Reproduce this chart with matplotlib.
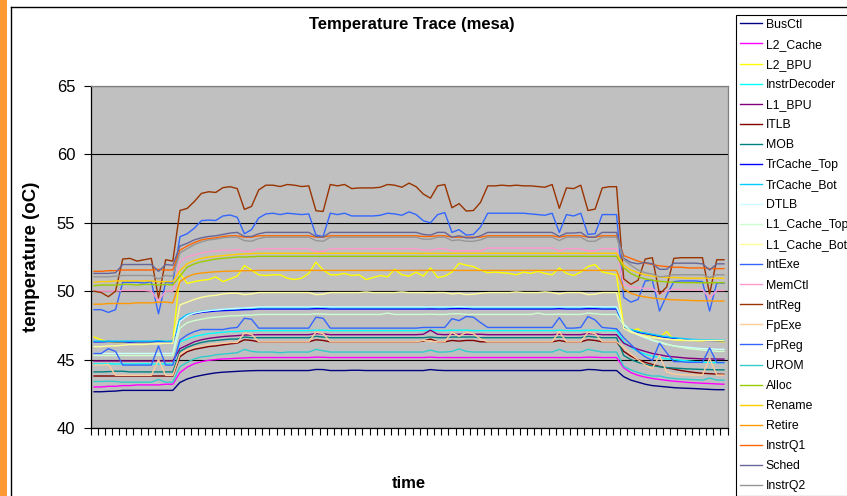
import matplotlib
matplotlib.use("Agg")
import matplotlib.pyplot as plt
from matplotlib.lines import Line2D
from matplotlib.patches import Rectangle
import numpy as np

plt.rcParams['font.family'] = ['Liberation Sans', 'DejaVu Sans']

# ---------------- data (89 samples per unit) ----------------
bus_ctl = [
    42.65, 42.65, 42.68, 42.7, 42.75, 42.75, 42.75, 42.75, 42.75, 42.75, 42.75, 42.75,
    43.33, 43.58, 43.74, 43.85, 43.95, 44.03, 44.08, 44.11, 44.14, 44.17, 44.19,
    44.2, 44.2, 44.2, 44.2, 44.2, 44.2, 44.2, 44.2, 44.28, 44.27,
    44.2, 44.2, 44.2, 44.22, 44.22, 44.2, 44.2, 44.2, 44.2, 44.2, 44.2, 44.2, 44.2,
    44.2, 44.27, 44.22, 44.2, 44.2, 44.2, 44.2, 44.2, 44.2,
    44.2, 44.2, 44.2, 44.2, 44.2, 44.2, 44.2, 44.2, 44.2, 44.2,
    44.2, 44.2, 44.2, 44.2, 44.28, 44.26, 44.2, 44.2, 44.2,
    43.75, 43.5, 43.35, 43.2, 43.1, 43.05, 43.0, 42.95, 42.92, 42.9, 42.88, 42.85, 42.82, 42.8, 42.8,
]
l2_cache = [
    43.0, 43.0, 43.05, 43.05, 43.1, 43.1, 43.15, 43.15, 43.15, 43.15, 43.2, 43.2,
    44.05, 44.45, 44.7, 44.85, 44.95, 45.0, 45.05, 45.07, 45.1, 45.12, 45.15,
    45.15, 45.15, 45.15, 45.15, 45.15, 45.15, 45.15, 45.15, 45.18, 45.17,
    45.15, 45.15, 45.15, 45.15, 45.15, 45.15, 45.15, 45.15, 45.15, 45.15, 45.15, 45.15, 45.15,
    45.15, 45.18, 45.15, 45.15, 45.15, 45.15, 45.15, 45.15, 45.15,
    45.15, 45.15, 45.15, 45.15, 45.15, 45.15, 45.15, 45.15, 45.15, 45.15,
    45.15, 45.15, 45.15, 45.15, 45.18, 45.17, 45.15, 45.15, 45.15,
    44.4, 44.05, 43.85, 43.72, 43.62, 43.55, 43.48, 43.42, 43.38, 43.33, 43.3, 43.27, 43.25, 43.22, 43.2,
]
l2_bpu = [
    46.65, 46.45, 46.3, 46.25, 46.25, 46.3, 46.3, 46.3, 46.3, 46.4, 46.35, 46.3,
    51.3, 50.57, 50.7, 50.8, 50.85, 51.05, 50.7, 50.9, 51.1, 51.87, 51.55,
    51.2, 51.15, 51.2, 51.2, 50.95, 50.85, 50.95, 51.3, 52.13, 51.55,
    51.2, 51.2, 51.3, 51.15, 51.2, 50.85, 51.0, 51.15, 51.05, 51.6, 51.2, 51.1, 51.4,
    51.1, 51.7, 51.0, 51.1, 51.4, 52.04, 51.9, 51.8, 51.55,
    51.35, 51.4, 51.35, 51.3, 51.2, 51.4, 51.3, 51.45, 51.3, 51.2,
    51.7, 51.3, 51.15, 51.4, 51.8, 51.95, 51.4, 51.3, 51.2,
    47.4, 47.1, 47.25, 46.85, 46.75, 46.6, 47.05, 46.45, 46.4, 46.4, 46.4, 46.35, 46.45, 46.35, 46.3,
]
instr_decoder = [
    44.68, 44.68, 44.7, 44.68, 44.68, 44.68, 44.68, 44.7, 44.68, 44.68, 44.68, 44.68,
    46.3, 46.5, 46.7, 46.8, 46.9, 46.95, 47.0, 47.05, 47.05, 47.1, 47.1,
    47.12, 47.12, 47.12, 47.12, 47.12, 47.12, 47.12, 47.12, 47.15, 47.15,
    47.12, 47.12, 47.12, 47.12, 47.12, 47.12, 47.12, 47.12, 47.12, 47.12, 47.12, 47.12, 47.12,
    47.12, 47.15, 47.12, 47.12, 47.15, 47.15, 47.15, 47.12, 47.12,
    47.12, 47.12, 47.12, 47.12, 47.12, 47.12, 47.12, 47.12, 47.12, 47.12,
    47.15, 47.12, 47.12, 47.12, 47.15, 47.15, 47.12, 47.12, 47.12,
    46.3, 45.9, 45.6, 45.4, 45.25, 45.15, 45.05, 45.0, 44.95, 44.9, 44.85, 44.8, 44.8, 44.78, 44.78,
]
l1_bpu = [
    44.9, 44.9, 44.9, 44.9, 44.9, 44.9, 44.9, 44.9, 44.9, 44.9, 44.9, 44.9,
    45.8, 46.05, 46.3, 46.45, 46.55, 46.62, 46.68, 46.72, 46.75, 46.8, 46.8,
    46.82, 46.82, 46.82, 46.82, 46.82, 46.82, 46.82, 46.82, 46.9, 46.88,
    46.82, 46.82, 46.82, 46.82, 46.82, 46.82, 46.82, 46.82, 46.82, 46.82, 46.82, 46.82, 46.82,
    46.85, 47.15, 46.85, 46.82, 46.85, 46.85, 46.85, 46.85, 46.85,
    46.82, 46.82, 46.82, 46.82, 46.82, 46.82, 46.82, 46.82, 46.82, 46.82,
    46.85, 46.82, 46.82, 46.82, 46.9, 46.88, 46.82, 46.82, 46.82,
    46.2, 45.95, 45.75, 45.6, 45.45, 45.35, 45.25, 45.2, 45.15, 45.1, 45.08, 45.05, 45.05, 45.04, 45.04,
]
itlb = [
    43.8, 43.8, 43.8, 43.8, 43.8, 43.8, 43.8, 43.8, 43.8, 43.8, 43.8, 43.8,
    45.21, 45.58, 45.75, 45.85, 45.95, 46.0, 46.08, 46.15, 46.2, 46.45, 46.4,
    46.3, 46.3, 46.3, 46.3, 46.3, 46.3, 46.3, 46.3, 46.45, 46.4,
    46.3, 46.3, 46.3, 46.3, 46.3, 46.3, 46.3, 46.3, 46.3, 46.3, 46.3, 46.3, 46.3,
    46.35, 46.5, 46.3, 46.3, 46.4, 46.35, 46.4, 46.4, 46.3,
    46.3, 46.3, 46.3, 46.3, 46.3, 46.3, 46.3, 46.3, 46.3, 46.3,
    46.4, 46.3, 46.3, 46.3, 46.45, 46.4, 46.3, 46.3, 46.3,
    45.6, 45.25, 45.0, 44.8, 44.65, 44.5, 44.4, 44.3, 44.2, 44.12, 44.05, 44.0, 43.97, 43.94, 43.92,
]
mob = [
    44.1, 44.1, 44.12, 44.15, 44.15, 44.1, 44.1, 44.1, 44.1, 44.1, 44.1, 44.1,
    45.6, 45.9, 46.1, 46.25, 46.35, 46.4, 46.45, 46.5, 46.5, 46.65, 46.6,
    46.6, 46.6, 46.6, 46.6, 46.6, 46.6, 46.6, 46.6, 46.7, 46.65,
    46.6, 46.6, 46.6, 46.6, 46.6, 46.6, 46.6, 46.6, 46.6, 46.6, 46.6, 46.6, 46.6,
    46.6, 46.65, 46.6, 46.6, 46.65, 46.65, 46.65, 46.65, 46.6,
    46.6, 46.6, 46.6, 46.6, 46.6, 46.6, 46.6, 46.6, 46.6, 46.6,
    46.65, 46.6, 46.6, 46.6, 46.7, 46.65, 46.6, 46.6, 46.6,
    45.3, 45.0, 44.8, 44.65, 44.55, 44.48, 44.42, 44.38, 44.35, 44.32, 44.3, 44.28, 44.27, 44.25, 44.25,
]
trcache_top = [
    46.3, 46.3, 46.32, 46.3, 46.3, 46.28, 46.3, 46.3, 46.3, 46.35, 46.3, 46.3,
    47.9, 48.25, 48.35, 48.45, 48.5, 48.55, 48.58, 48.6, 48.62, 48.65, 48.66,
    48.7, 48.7, 48.7, 48.7, 48.7, 48.7, 48.7, 48.7, 48.72, 48.72,
    48.7, 48.7, 48.7, 48.7, 48.7, 48.7, 48.7, 48.7, 48.7, 48.7, 48.7, 48.7, 48.7,
    48.7, 48.7, 48.7, 48.7, 48.72, 48.72, 48.72, 48.7, 48.7,
    48.7, 48.7, 48.7, 48.7, 48.7, 48.7, 48.7, 48.7, 48.7, 48.7,
    48.72, 48.7, 48.7, 48.7, 48.72, 48.72, 48.7, 48.7, 48.7,
    47.4, 47.15, 47.0, 46.9, 46.8, 46.7, 46.62, 46.55, 46.5, 46.45, 46.42, 46.4, 46.4, 46.38, 46.38,
]
trcache_bot = [
    46.35, 46.35, 46.35, 46.35, 46.35, 46.35, 46.35, 46.35, 46.35, 46.38, 46.35, 46.35,
    47.95, 48.3, 48.42, 48.52, 48.58, 48.63, 48.66, 48.7, 48.72, 48.78, 48.76,
    48.8, 48.8, 48.8, 48.8, 48.8, 48.8, 48.8, 48.8, 48.85, 48.83,
    48.8, 48.8, 48.8, 48.8, 48.8, 48.8, 48.8, 48.8, 48.8, 48.8, 48.8, 48.8, 48.8,
    48.8, 48.83, 48.8, 48.8, 48.83, 48.85, 48.83, 48.8, 48.8,
    48.8, 48.8, 48.8, 48.8, 48.8, 48.8, 48.8, 48.8, 48.8, 48.8,
    48.83, 48.8, 48.8, 48.8, 48.85, 48.83, 48.8, 48.8, 48.8,
    47.45, 47.2, 47.05, 46.95, 46.85, 46.75, 46.67, 46.6, 46.55, 46.5, 46.47, 46.45, 46.45, 46.43, 46.43,
]
dtlb = [
    45.45, 45.45, 45.45, 45.45, 45.45, 45.45, 45.45, 45.45, 45.45, 45.45, 45.45, 45.45,
    47.8, 48.2, 48.4, 48.5, 48.58, 48.63, 48.68, 48.72, 48.75, 48.78, 48.8,
    48.85, 48.85, 48.85, 48.85, 48.85, 48.85, 48.85, 48.85, 48.88, 48.86,
    48.85, 48.85, 48.85, 48.85, 48.85, 48.85, 48.85, 48.85, 48.85, 48.85, 48.85, 48.85, 48.85,
    48.85, 48.85, 48.85, 48.85, 48.85, 48.88, 48.85, 48.85, 48.85,
    48.85, 48.85, 48.85, 48.85, 48.85, 48.85, 48.85, 48.85, 48.85, 48.85,
    48.85, 48.85, 48.85, 48.85, 48.88, 48.86, 48.85, 48.85, 48.85,
    47.6, 47.1, 46.8, 46.6, 46.4, 46.25, 46.1, 46.0, 45.95, 45.9, 45.85, 45.8, 45.8, 45.75, 45.75,
]
l1_cache_top = [
    45.3, 45.3, 45.3, 45.3, 45.3, 45.3, 45.3, 45.3, 45.3, 45.32, 45.3, 45.3,
    47.3, 47.7, 47.85, 47.95, 48.05, 48.1, 48.15, 48.2, 48.2, 48.25, 48.25,
    48.3, 48.3, 48.3, 48.3, 48.3, 48.3, 48.3, 48.3, 48.35, 48.32,
    48.3, 48.3, 48.3, 48.3, 48.3, 48.3, 48.3, 48.3, 48.4, 48.3, 48.3, 48.3, 48.3,
    48.3, 48.32, 48.3, 48.3, 48.35, 48.35, 48.3, 48.3, 48.3,
    48.3, 48.3, 48.3, 48.3, 48.3, 48.3, 48.3, 48.4, 48.3, 48.3,
    48.32, 48.3, 48.3, 48.3, 48.4, 48.35, 48.3, 48.3, 48.3,
    47.5, 47.1, 46.85, 46.65, 46.45, 46.3, 46.15, 46.0, 45.9, 45.8, 45.75, 45.7, 45.65, 45.6, 45.6,
]
l1_cache_bot = [
    45.95, 45.95, 46.0, 46.0, 46.05, 46.1, 46.1, 46.1, 46.15, 46.15, 46.2, 46.2,
    49.0, 49.2, 49.4, 49.55, 49.65, 49.7, 49.8, 49.85, 49.85, 49.75, 49.8,
    49.9, 49.9, 49.9, 49.9, 49.9, 49.9, 49.9, 49.9, 49.75, 49.78,
    49.9, 49.9, 49.9, 49.9, 49.9, 49.95, 49.9, 49.9, 49.9, 49.9, 49.95, 49.9, 49.9,
    49.9, 49.88, 49.9, 49.9, 49.8, 49.85, 49.75, 49.78, 49.85,
    49.9, 49.9, 49.9, 49.9, 49.95, 49.9, 49.9, 49.9, 49.95, 49.9,
    49.8, 49.9, 49.9, 49.9, 49.75, 49.78, 49.9, 49.9, 49.9,
    47.3, 47.0, 46.85, 46.7, 46.6, 46.55, 46.5, 46.45, 46.45, 46.4, 46.4, 46.4, 46.4, 46.4, 46.4,
]
int_exe = [
    48.65, 48.65, 48.45, 48.65, 50.65, 50.65, 50.65, 50.6, 50.7, 48.35, 50.65, 50.6,
    53.98, 54.2, 54.6, 55.16, 55.2, 55.17, 55.5, 55.57, 55.4, 54.2, 54.5,
    55.35, 55.65, 55.7, 55.6, 55.7, 55.65, 55.6, 55.65, 54.1, 54.0,
    55.7, 55.6, 55.7, 55.5, 55.5, 55.5, 55.5, 55.55, 55.7, 55.65, 55.55, 55.8, 55.6,
    55.15, 55.0, 55.6, 55.75, 54.3, 54.5, 54.1, 54.15, 54.7,
    55.7, 55.7, 55.7, 55.7, 55.7, 55.7, 55.65, 55.6, 55.55, 55.7,
    54.3, 55.6, 55.5, 55.7, 54.15, 54.2, 55.6, 55.6, 55.6,
    49.55, 49.2, 49.4, 50.75, 50.8, 48.55, 49.7, 50.7, 50.75, 50.75, 50.75, 50.7, 48.55, 50.6, 50.6,
]
mem_ctl = [
    50.0, 50.0, 50.0, 50.0, 50.05, 50.05, 50.05, 50.05, 50.0, 49.3, 50.0, 50.0,
    52.15, 52.5, 52.65, 52.8, 52.9, 52.95, 53.0, 53.0, 53.05, 52.9, 52.95,
    53.1, 53.1, 53.1, 53.1, 53.1, 53.1, 53.1, 53.1, 52.9, 52.9,
    53.1, 53.1, 53.1, 53.1, 53.1, 53.1, 53.1, 53.1, 53.1, 53.1, 53.1, 53.1, 53.1,
    53.0, 53.0, 53.1, 53.1, 52.95, 52.95, 52.95, 52.95, 52.95,
    53.15, 53.15, 53.15, 53.15, 53.15, 53.15, 53.15, 53.15, 53.15, 53.15,
    52.95, 53.1, 53.1, 53.1, 52.95, 52.95, 53.1, 53.1, 53.1,
    50.5, 50.3, 50.25, 50.2, 50.2, 49.8, 50.0, 50.15, 50.1, 50.1, 50.1, 50.1, 49.5, 50.05, 50.05,
]
int_reg = [
    50.0, 49.9, 49.6, 50.0, 52.35, 52.4, 52.2, 52.3, 52.4, 49.5, 52.3, 52.2,
    55.9, 56.05, 56.55, 57.15, 57.27, 57.22, 57.57, 57.64, 57.5, 55.98, 56.2,
    57.4, 57.75, 57.75, 57.65, 57.8, 57.75, 57.65, 57.7, 55.88, 55.83,
    57.8, 57.7, 57.8, 57.5, 57.55, 57.55, 57.55, 57.6, 57.8, 57.75, 57.6, 57.9, 57.64,
    57.1, 56.8, 57.7, 57.8, 56.1, 56.4, 55.86, 55.9, 56.5,
    57.7, 57.7, 57.75, 57.7, 57.75, 57.7, 57.7, 57.65, 57.6, 57.8,
    56.06, 57.55, 57.5, 57.75, 55.9, 56.0, 57.55, 57.64, 57.64,
    50.9, 50.5, 50.8, 52.35, 52.45, 49.8, 50.3, 52.4, 52.45, 52.45, 52.45, 52.45, 49.8, 52.3, 52.3,
]
fp_exe = [
    44.6, 44.6, 44.65, 43.85, 43.85, 43.85, 43.85, 43.85, 43.85, 45.0, 43.85, 43.85,
    45.4, 45.7, 45.9, 46.0, 46.1, 46.15, 46.2, 46.25, 46.25, 46.95, 46.85,
    46.3, 46.3, 46.3, 46.3, 46.3, 46.3, 46.3, 46.3, 47.0, 46.9,
    46.3, 46.3, 46.3, 46.3, 46.3, 46.3, 46.3, 46.3, 46.3, 46.3, 46.3, 46.3, 46.3,
    46.4, 46.35, 46.3, 46.3, 47.0, 46.7, 47.0, 46.9, 46.5,
    46.3, 46.3, 46.3, 46.3, 46.3, 46.3, 46.3, 46.3, 46.3, 46.3,
    47.05, 46.3, 46.3, 46.3, 47.0, 46.9, 46.3, 46.3, 46.3,
    45.9, 45.4, 45.0, 44.6, 44.35, 45.3, 44.1, 43.95, 43.9, 43.88, 43.87, 43.87, 45.1, 43.87, 43.87,
]
fp_reg = [
    45.45, 45.45, 45.8, 45.6, 44.6, 44.6, 44.6, 44.6, 44.6, 46.0, 44.6, 44.6,
    46.43, 46.8, 47.05, 47.2, 47.2, 47.2, 47.2, 47.3, 47.35, 48.02, 47.95,
    47.3, 47.3, 47.3, 47.3, 47.3, 47.3, 47.3, 47.3, 48.1, 48.02,
    47.3, 47.3, 47.3, 47.3, 47.3, 47.3, 47.3, 47.3, 47.3, 47.3, 47.3, 47.3, 47.3,
    47.35, 47.35, 47.35, 47.35, 47.99, 47.85, 48.15, 48.1, 47.7,
    47.35, 47.35, 47.35, 47.35, 47.35, 47.35, 47.35, 47.35, 47.35, 47.35,
    48.07, 47.3, 47.3, 47.35, 48.15, 47.9, 47.35, 47.3, 47.25,
    46.6, 46.1, 45.6, 45.2, 44.95, 46.2, 45.5, 44.85, 44.85, 44.8, 44.8, 44.8, 45.85, 44.78, 44.78,
]
urom = [
    43.4, 43.4, 43.42, 43.4, 43.35, 43.35, 43.35, 43.35, 43.35, 43.55, 43.35, 43.35,
    44.48, 44.8, 45.05, 45.2, 45.25, 45.35, 45.4, 45.45, 45.5, 45.75, 45.6,
    45.55, 45.55, 45.55, 45.5, 45.55, 45.55, 45.55, 45.55, 45.75, 45.65,
    45.55, 45.55, 45.55, 45.55, 45.55, 45.55, 45.55, 45.55, 45.55, 45.55, 45.55, 45.55, 45.55,
    45.55, 45.7, 45.55, 45.55, 45.6, 45.78, 45.6, 45.55, 45.55,
    45.55, 45.55, 45.55, 45.55, 45.55, 45.55, 45.55, 45.55, 45.55, 45.55,
    45.75, 45.55, 45.55, 45.55, 45.75, 45.65, 45.55, 45.55, 45.55,
    44.5, 44.25, 44.05, 43.9, 43.8, 43.8, 43.68, 43.62, 43.58, 43.55, 43.53, 43.5, 43.65, 43.5, 43.5,
]
alloc = [
    50.4, 50.45, 50.45, 50.45, 50.5, 50.5, 50.45, 50.5, 50.5, 50.45, 50.5, 50.45,
    51.1, 51.75, 52.0, 52.15, 52.25, 52.35, 52.4, 52.45, 52.5, 52.5, 52.52,
    52.55, 52.55, 52.55, 52.55, 52.55, 52.55, 52.55, 52.55, 52.55, 52.55,
    52.55, 52.55, 52.55, 52.55, 52.55, 52.55, 52.55, 52.55, 52.55, 52.55, 52.55, 52.55, 52.55,
    52.55, 52.55, 52.55, 52.55, 52.55, 52.55, 52.55, 52.55, 52.55,
    52.55, 52.55, 52.55, 52.55, 52.55, 52.55, 52.55, 52.55, 52.55, 52.55,
    52.55, 52.55, 52.55, 52.55, 52.55, 52.55, 52.55, 52.55, 52.55,
    51.7, 51.3, 51.05, 50.9, 50.8, 50.72, 50.68, 50.65, 50.63, 50.62, 50.62, 50.62, 50.62, 50.62, 50.62,
]
rename = [
    50.65, 50.7, 50.7, 50.75, 50.75, 50.75, 50.75, 50.75, 50.75, 50.7, 50.7, 50.7,
    51.5, 52.0, 52.25, 52.4, 52.5, 52.55, 52.6, 52.65, 52.7, 52.72, 52.75,
    52.77, 52.77, 52.77, 52.77, 52.77, 52.77, 52.77, 52.77, 52.77, 52.77,
    52.77, 52.77, 52.77, 52.77, 52.77, 52.77, 52.77, 52.77, 52.77, 52.77, 52.77, 52.77, 52.77,
    52.77, 52.77, 52.77, 52.77, 52.77, 52.77, 52.77, 52.77, 52.77,
    52.77, 52.77, 52.77, 52.77, 52.77, 52.77, 52.77, 52.77, 52.77, 52.77,
    52.77, 52.77, 52.77, 52.77, 52.77, 52.77, 52.77, 52.77, 52.77,
    51.9, 51.55, 51.35, 51.2, 51.1, 51.05, 51.0, 51.0, 50.98, 50.95, 50.95, 50.95, 50.95, 50.95, 50.95,
]
retire = [
    49.05, 49.05, 49.1, 49.1, 49.1, 49.1, 49.15, 49.15, 49.15, 49.2, 49.2, 49.15,
    50.7, 51.05, 51.25, 51.33, 51.38, 51.42, 51.45, 51.47, 51.48, 51.5, 51.5,
    51.52, 51.52, 51.52, 51.52, 51.52, 51.52, 51.52, 51.52, 51.52, 51.52,
    51.52, 51.52, 51.52, 51.52, 51.52, 51.52, 51.52, 51.52, 51.52, 51.52, 51.52, 51.52, 51.52,
    51.52, 51.52, 51.52, 51.52, 51.52, 51.52, 51.52, 51.52, 51.52,
    51.52, 51.52, 51.52, 51.52, 51.52, 51.52, 51.52, 51.52, 51.52, 51.52,
    51.52, 51.52, 51.52, 51.52, 51.52, 51.52, 51.52, 51.52, 51.52,
    50.15, 49.85, 49.68, 49.58, 49.5, 49.45, 49.4, 49.37, 49.35, 49.33, 49.31, 49.3, 49.29, 49.28, 49.28,
]
instr_q1 = [
    51.45, 51.45, 51.5, 51.5, 51.55, 51.55, 51.55, 51.55, 51.55, 51.6, 51.55, 51.55,
    53.0, 53.3, 53.55, 53.75, 53.85, 53.9, 54.0, 54.05, 54.05, 53.95, 53.95,
    54.05, 54.05, 54.05, 54.05, 54.05, 54.05, 54.05, 54.05, 53.95, 53.95,
    54.05, 54.05, 54.05, 54.05, 54.05, 54.05, 54.05, 54.05, 54.05, 54.05, 54.05, 54.05, 54.05,
    54.0, 54.0, 54.05, 54.05, 53.95, 53.95, 53.95, 53.95, 53.95,
    54.05, 54.05, 54.05, 54.05, 54.05, 54.05, 54.05, 54.05, 54.05, 54.05,
    53.95, 54.05, 54.05, 54.05, 53.95, 53.95, 54.05, 54.05, 54.05,
    52.6, 52.4, 52.2, 52.05, 51.95, 51.85, 51.8, 51.75, 51.75, 51.7, 51.7, 51.7, 51.65, 51.65, 51.65,
]
sched = [
    51.3, 51.3, 51.3, 51.35, 51.95, 51.95, 51.95, 51.95, 51.95, 51.45, 51.95, 51.9,
    53.3, 53.5, 53.75, 53.9, 54.0, 54.05, 54.15, 54.25, 54.3, 54.0, 54.0,
    54.2, 54.3, 54.3, 54.3, 54.3, 54.3, 54.3, 54.3, 54.0, 53.95,
    54.3, 54.3, 54.3, 54.3, 54.3, 54.3, 54.3, 54.3, 54.3, 54.3, 54.3, 54.3, 54.3,
    54.15, 54.1, 54.3, 54.3, 53.95, 54.05, 53.9, 53.9, 54.05,
    54.3, 54.3, 54.3, 54.3, 54.3, 54.3, 54.3, 54.3, 54.3, 54.3,
    54.0, 54.25, 54.25, 54.3, 53.95, 53.95, 54.3, 54.3, 54.3,
    52.4, 52.1, 52.0, 52.1, 52.0, 51.6, 51.6, 52.05, 52.05, 52.05, 52.05, 52.0, 51.55, 52.0, 52.0,
]
instr_q2 = [
    51.05, 51.05, 51.05, 51.1, 51.15, 51.15, 51.15, 51.15, 51.15, 50.9, 51.15, 51.1,
    52.8, 53.1, 53.4, 53.6, 53.75, 53.8, 53.9, 53.95, 53.95, 53.7, 53.65,
    53.85, 53.95, 53.95, 53.95, 53.95, 53.95, 53.95, 53.95, 53.7, 53.65,
    53.95, 53.95, 53.95, 53.95, 53.95, 53.95, 53.95, 53.95, 53.95, 53.95, 53.95, 53.95, 53.95,
    53.8, 53.8, 53.95, 53.95, 53.7, 53.75, 53.65, 53.65, 53.75,
    53.95, 53.95, 53.95, 53.95, 53.95, 53.95, 53.95, 53.95, 53.95, 53.95,
    53.7, 53.95, 53.95, 53.95, 53.65, 53.65, 53.95, 53.95, 53.95,
    52.3, 51.9, 51.55, 51.35, 51.25, 51.05, 51.1, 51.2, 51.2, 51.2, 51.2, 51.2, 51.0, 51.2, 51.2,
]

series_names = ["BusCtl", "L2_Cache", "L2_BPU", "InstrDecoder", "L1_BPU", "ITLB", "MOB",
                "TrCache_Top", "TrCache_Bot", "DTLB", "L1_Cache_Top", "L1_Cache_Bot",
                "IntExe", "MemCtl", "IntReg", "FpExe", "FpReg", "UROM", "Alloc",
                "Rename", "Retire", "InstrQ1", "Sched", "InstrQ2"]
series_values = [bus_ctl, l2_cache, l2_bpu, instr_decoder, l1_bpu, itlb, mob,
                 trcache_top, trcache_bot, dtlb, l1_cache_top, l1_cache_bot,
                 int_exe, mem_ctl, int_reg, fp_exe, fp_reg, urom, alloc,
                 rename, retire, instr_q1, sched, instr_q2]
series_colors = ["#000080", "#FF00FF", "#FFFF00", "#00FFFF", "#800080", "#800000", "#008080",
                 "#0000FF", "#00CCFF", "#CCFFFF", "#CCFFCC", "#FFFF99",
                 "#3366FF", "#FF99CC", "#993300", "#FFCC99", "#3366FF", "#33CCCC", "#99CC00",
                 "#FFCC00", "#FF9900", "#FF6600", "#666699", "#969696"]
y_ticks = [40, 45, 50, 55, 60, 65]

for nm, v in zip(series_names, series_values):
    assert len(v) == 89, (nm, len(v))

# ---------------- figure ----------------
W, H = 847, 496
fig = plt.figure(figsize=(W / 100, H / 100), dpi=100)
fig.patch.set_facecolor('white')

fig.add_artist(Rectangle((0, 0), 7 / W, 1, transform=fig.transFigure,
                         facecolor='#FF9933', edgecolor='none', zorder=0))
fig.add_artist(Line2D([10.5 / W, 10.5 / W], [0, 1 - 6.5 / H], transform=fig.transFigure,
                      color='black', lw=1.0))
fig.add_artist(Line2D([10.5 / W, 1], [1 - 6.5 / H, 1 - 6.5 / H], transform=fig.transFigure,
                      color='black', lw=1.0))

ax = fig.add_axes([90.5 / W, (H - 428) / H, 637 / W, 342 / H])
ax.set_facecolor('#C0C0C0')

n = len(bus_ctl)
x = np.arange(n)
for nm, vals, col in zip(series_names, series_values, series_colors):
    ax.plot(x, vals, color=col, lw=1.0, label=nm)

ax.set_xlim(-0.5, n - 0.5)
ax.set_ylim(y_ticks[0], y_ticks[-1])
ax.set_yticks(y_ticks)
ax.set_yticklabels([str(t) for t in y_ticks])
ax.yaxis.grid(True, color='black', lw=0.8)
ax.set_axisbelow(True)
ax.set_xticks(np.arange(-0.5, n, 1.0))
ax.set_xticklabels([])
ax.tick_params(axis='x', direction='out', length=5, width=0.8, color='black')
ax.tick_params(axis='y', direction='out', length=5, width=0.8, color='black',
               labelsize=12, pad=6)
for s in ['left', 'bottom']:
    ax.spines[s].set_color('black')
    ax.spines[s].set_linewidth(0.9)
for s in ['top', 'right']:
    ax.spines[s].set_color('#808080')
    ax.spines[s].set_linewidth(0.9)

fig.text(412 / W, 1 - 25 / H, 'Temperature Trace (mesa)', ha='center', va='center',
         fontsize=12, fontweight='bold')
ax.set_xlabel('time', fontsize=12, fontweight='bold')
ax.xaxis.set_label_coords(0.5, -(484 - 428) / 342, transform=ax.transAxes)
ax.xaxis.label.set_va('center')
ax.set_ylabel('temperature (oC)', fontsize=13.5, fontweight='bold')
ax.yaxis.set_label_coords(-(90.5 - 32) / 637, 0.5, transform=ax.transAxes)
ax.yaxis.label.set_va('center')

leg = ax.legend(loc='upper left', bbox_to_anchor=(736 / W, 1 - 15 / H),
                bbox_transform=fig.transFigure, frameon=True, fancybox=False,
                edgecolor='black', facecolor='white', framealpha=1, fontsize=8.8,
                handlelength=1.85, handletextpad=0.28, labelspacing=0.66,
                borderpad=0.3, borderaxespad=0)
leg.get_frame().set_linewidth(0.8)
for h in leg.get_lines():
    h.set_linewidth(1.0)

fig.savefig('out.png', dpi=100)
